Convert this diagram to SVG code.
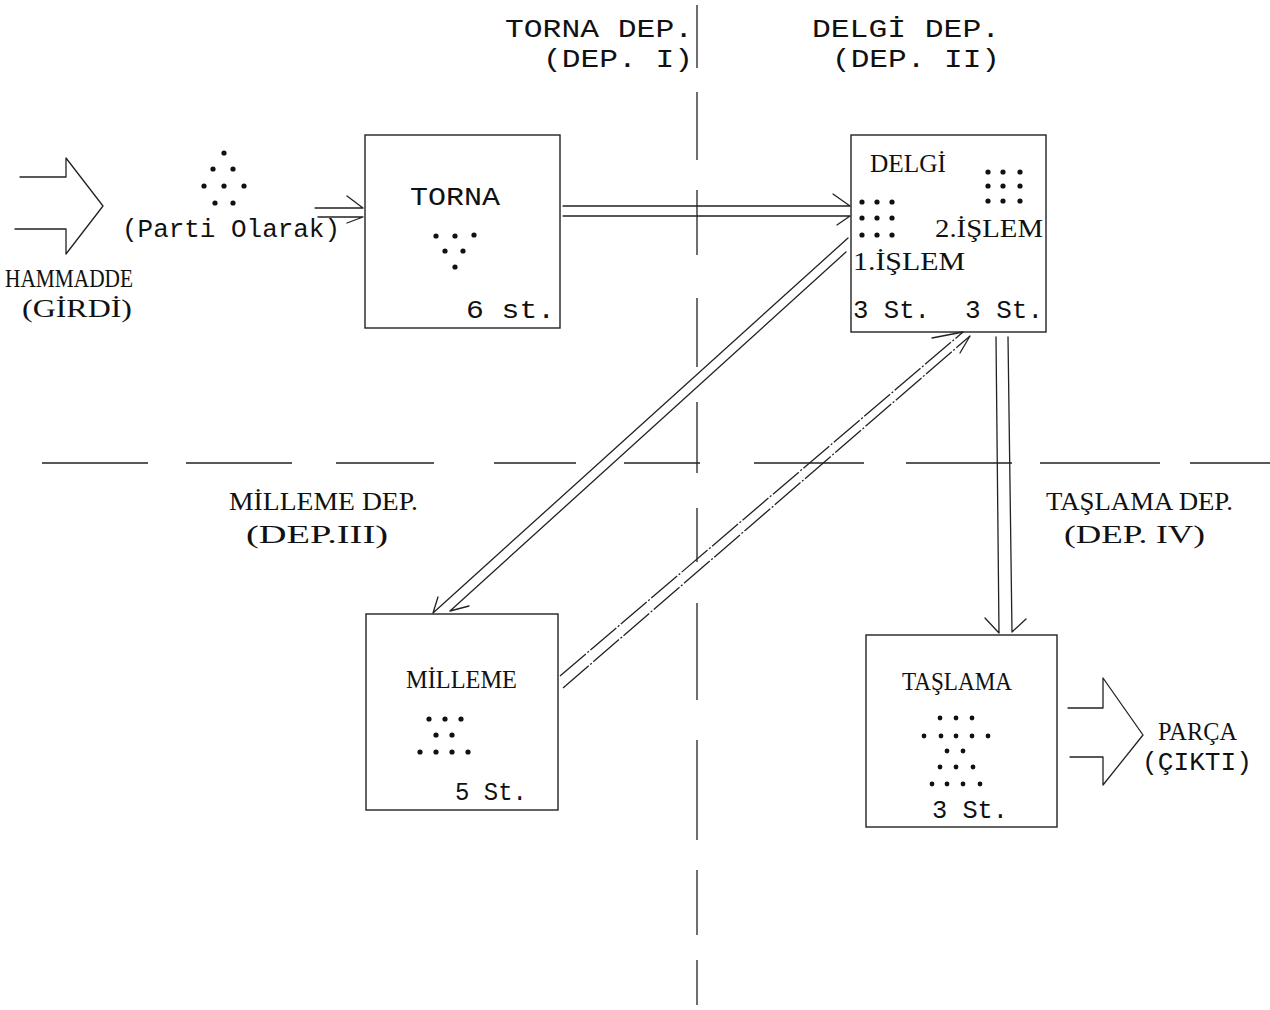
<svg xmlns="http://www.w3.org/2000/svg" width="1270" height="1010" viewBox="0 0 1270 1010">
<style>
.bg{fill:#ffffff}
.box{fill:none;stroke:#222;stroke-width:1.4}
.ln{fill:none;stroke:#222;stroke-width:1.3;stroke-linecap:round;stroke-linejoin:round}
.dl{fill:none;stroke:#222;stroke-width:1.3;stroke-dasharray:34 2 2 2}
.sep{fill:none;stroke:#222;stroke-width:1.3}
.m{font-family:"Liberation Mono","DejaVu Sans Mono",monospace;font-size:26px;fill:#111}
.s{font-family:"Liberation Serif","DejaVu Serif",serif;font-size:26px;fill:#111}
.d{fill:#111}
</style>
<rect class="bg" x="0" y="0" width="1270" height="1010"/>

<g id="separators">
<path class="sep" d="M697,5V68M697,92V160M697,190V255M697,298V367M697,402V473M697,508V562M697,603V700M697,740V840M697,870V935M697,960V1005"/>
<path class="sep" d="M42,463H148M186,463H292M336,463H434M494,463H576M624,463H700M754,463H864M906,463H1012M1040,463H1160M1190,463H1270"/>
</g>

<g id="dept-labels">
<text class="m" x="505" y="37" textLength="188" lengthAdjust="spacingAndGlyphs">TORNA DEP.</text>
<text class="m" x="543" y="67" textLength="150" lengthAdjust="spacingAndGlyphs">(DEP. I)</text>
<text class="m" x="812" y="37" textLength="188" lengthAdjust="spacingAndGlyphs">DELGİ DEP.</text>
<text class="m" x="832" y="67" textLength="168" lengthAdjust="spacingAndGlyphs">(DEP. II)</text>
<text class="s" x="229" y="510" textLength="189" lengthAdjust="spacingAndGlyphs">MİLLEME DEP.</text>
<text class="s" x="246" y="543" textLength="142" lengthAdjust="spacingAndGlyphs">(DEP.III)</text>
<text class="s" x="1046" y="510" textLength="187" lengthAdjust="spacingAndGlyphs">TAŞLAMA DEP.</text>
<text class="s" x="1064" y="543" textLength="141" lengthAdjust="spacingAndGlyphs">(DEP. IV)</text>
</g>

<g id="input">
<path class="ln" d="M20,177H66V158L103,206L66,254V229H15"/>
<text class="s" x="5" y="287" textLength="128" lengthAdjust="spacingAndGlyphs">HAMMADDE</text>
<text class="s" x="22" y="317" textLength="110" lengthAdjust="spacingAndGlyphs">(GİRDİ)</text>
</g>

<g id="batch">
<circle class="d" cx="224" cy="153" r="2.6"/>
<circle class="d" cx="213" cy="169" r="2.6"/><circle class="d" cx="233" cy="169" r="2.6"/>
<circle class="d" cx="204" cy="186" r="2.6"/><circle class="d" cx="224" cy="186" r="2.6"/><circle class="d" cx="244" cy="186" r="2.6"/>
<circle class="d" cx="215" cy="203" r="2.6"/><circle class="d" cx="233" cy="203" r="2.6"/>
<text class="m" x="122" y="237" textLength="218" lengthAdjust="spacingAndGlyphs">(Parti Olarak)</text>
</g>

<g id="torna">
<rect class="box" x="365" y="135" width="195" height="193"/>
<text class="m" x="410" y="205" textLength="90" lengthAdjust="spacingAndGlyphs">TORNA</text>
<circle class="d" cx="436" cy="236" r="2.6"/><circle class="d" cx="455" cy="236" r="2.6"/><circle class="d" cx="474" cy="235" r="2.6"/>
<circle class="d" cx="445" cy="251" r="2.6"/><circle class="d" cx="463" cy="251" r="2.6"/>
<circle class="d" cx="455" cy="267" r="2.6"/>
<text class="m" x="466" y="318" textLength="89" lengthAdjust="spacingAndGlyphs">6 st.</text>
</g>

<g id="delgi">
<rect class="box" x="851" y="135" width="195" height="197"/>
<text class="s" x="870" y="172" textLength="76" lengthAdjust="spacingAndGlyphs">DELGİ</text>
<circle class="d" cx="988" cy="172" r="2.6"/><circle class="d" cx="1003" cy="172" r="2.6"/><circle class="d" cx="1020" cy="172" r="2.6"/>
<circle class="d" cx="988" cy="186" r="2.6"/><circle class="d" cx="1003" cy="186" r="2.6"/><circle class="d" cx="1020" cy="186" r="2.6"/>
<circle class="d" cx="988" cy="201" r="2.6"/><circle class="d" cx="1003" cy="201" r="2.6"/><circle class="d" cx="1020" cy="201" r="2.6"/>
<circle class="d" cx="862" cy="202" r="2.6"/><circle class="d" cx="877" cy="202" r="2.6"/><circle class="d" cx="892" cy="202" r="2.6"/>
<circle class="d" cx="862" cy="218" r="2.6"/><circle class="d" cx="877" cy="218" r="2.6"/><circle class="d" cx="892" cy="218" r="2.6"/>
<circle class="d" cx="862" cy="235" r="2.6"/><circle class="d" cx="877" cy="235" r="2.6"/><circle class="d" cx="892" cy="235" r="2.6"/>
<text class="s" x="935" y="237" textLength="108" lengthAdjust="spacingAndGlyphs">2.İŞLEM</text>
<text class="s" x="853" y="270" textLength="112" lengthAdjust="spacingAndGlyphs">1.İŞLEM</text>
<text class="m" x="853" y="318" textLength="77" lengthAdjust="spacingAndGlyphs">3 St.</text>
<text class="m" x="965" y="318" textLength="78" lengthAdjust="spacingAndGlyphs">3 St.</text>
</g>

<g id="milleme">
<rect class="box" x="366" y="614" width="192" height="196"/>
<text class="s" x="406" y="688" textLength="111" lengthAdjust="spacingAndGlyphs">MİLLEME</text>
<circle class="d" cx="429" cy="719" r="2.6"/><circle class="d" cx="445" cy="719" r="2.6"/><circle class="d" cx="461" cy="719" r="2.6"/>
<circle class="d" cx="436" cy="735" r="2.6"/><circle class="d" cx="452" cy="735" r="2.6"/>
<circle class="d" cx="420" cy="752" r="2.6"/><circle class="d" cx="436" cy="752" r="2.6"/><circle class="d" cx="452" cy="752" r="2.6"/><circle class="d" cx="468" cy="752" r="2.6"/>
<text class="m" x="455" y="800" textLength="72" lengthAdjust="spacingAndGlyphs">5 St.</text>
</g>

<g id="taslama">
<rect class="box" x="866" y="635" width="191" height="192"/>
<text class="s" x="902" y="690" textLength="110" lengthAdjust="spacingAndGlyphs">TAŞLAMA</text>
<circle class="d" cx="940" cy="718" r="2.4"/><circle class="d" cx="956" cy="718" r="2.4"/><circle class="d" cx="972" cy="718" r="2.4"/>
<circle class="d" cx="924" cy="736" r="2.4"/><circle class="d" cx="941" cy="736" r="2.4"/><circle class="d" cx="956" cy="736" r="2.4"/><circle class="d" cx="972" cy="736" r="2.4"/><circle class="d" cx="988" cy="736" r="2.4"/>
<circle class="d" cx="947" cy="751" r="2.4"/><circle class="d" cx="963" cy="751" r="2.4"/>
<circle class="d" cx="940" cy="767" r="2.4"/><circle class="d" cx="956" cy="767" r="2.4"/><circle class="d" cx="973" cy="767" r="2.4"/>
<circle class="d" cx="932" cy="784" r="2.4"/><circle class="d" cx="947" cy="784" r="2.4"/><circle class="d" cx="963" cy="784" r="2.4"/><circle class="d" cx="980" cy="784" r="2.4"/>
<text class="m" x="932" y="818" textLength="76" lengthAdjust="spacingAndGlyphs">3 St.</text>
</g>

<g id="output">
<path class="ln" d="M1068,708H1103V678L1143,735L1103,785V757H1070"/>
<text class="s" x="1158" y="740" textLength="79" lengthAdjust="spacingAndGlyphs">PARÇA</text>
<text class="m" x="1142" y="770" textLength="110" lengthAdjust="spacingAndGlyphs">(ÇIKTI)</text>
</g>

<g id="connectors">
<path class="ln" d="M315,208H363M347,196L363,208M318,217H363M347,223L363,217"/>
<path class="ln" d="M563,206H850M833,194L850,206M563,216H850M837,225L850,216"/>
<path class="ln" d="M848,238L433,613M438,597L433,613M846,252L450,611M469,606L450,611"/>
<path class="dl" d="M560,676L963,332M563,688L970,336"/>
<path class="ln" d="M932,338L963,332M960,353L970,336"/>
<path class="ln" d="M996,337L999,633M985,618L999,633M1008,337L1012,632M1026,619L1012,632"/>
</g>
</svg>
